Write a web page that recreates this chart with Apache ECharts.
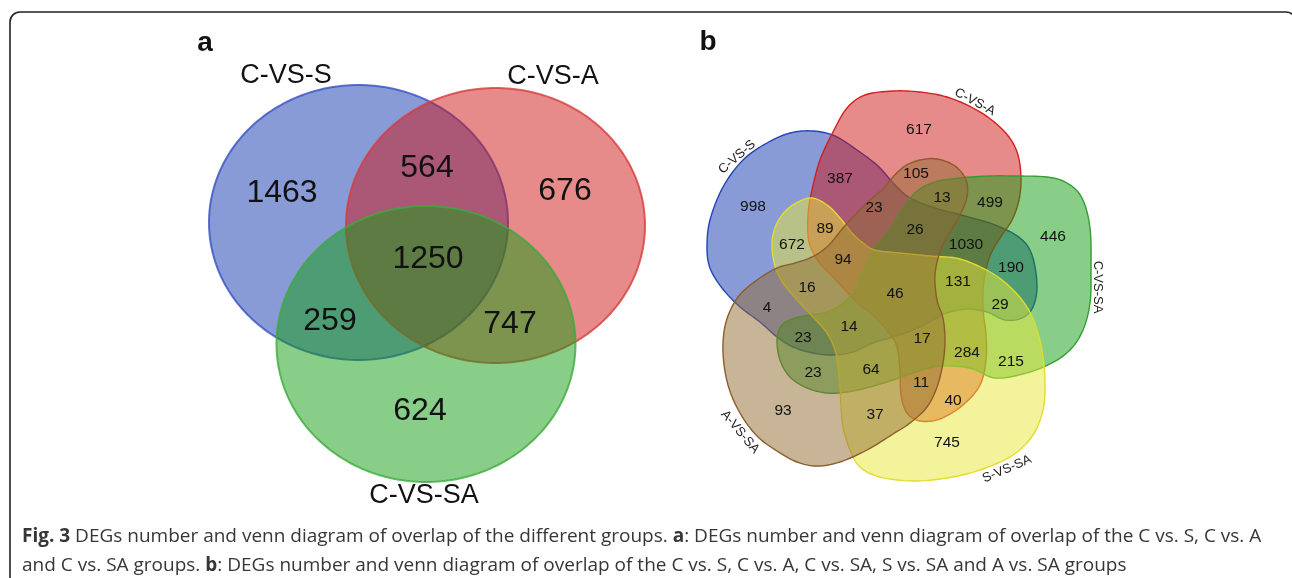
<!DOCTYPE html>
<html>
<head>
<meta charset="utf-8">
<script src="https://cdn.jsdelivr.net/npm/echarts@6/dist/echarts.min.js"></script>
<style>
  html, body { margin: 0; padding: 0; background: #fff; }
  #chart { width: 1292px; height: 578px; }
</style>
</head>
<body>
<div id="chart"></div>
<script>
// ---------- Panel a: three comparison groups ----------
const groupsA = ['C-VS-S', 'C-VS-A', 'C-VS-SA'];
// Set membership of every region (indices into groupsA)
const regionsA = [[0], [1], [2], [0, 1], [0, 2], [1, 2], [0, 1, 2]];
// DEG counts per region
const countsA = [1463, 676, 624, 564, 259, 747, 1250];

// ---------- Panel b: five comparison groups ----------
const groupsB = ['C-VS-S', 'C-VS-A', 'C-VS-SA', 'S-VS-SA', 'A-VS-SA'];
const regionsB = [
  [0], [1], [2], [3], [4],
  [0, 1], [0, 2], [0, 3], [0, 4], [1, 2], [1, 3], [1, 4], [2, 3], [2, 4], [3, 4],
  [0, 1, 2], [0, 1, 3], [0, 1, 4], [0, 2, 3], [0, 2, 4], [0, 3, 4], [1, 2, 3], [1, 2, 4], [1, 3, 4], [2, 3, 4],
  [0, 1, 2, 3], [0, 1, 2, 4], [0, 1, 3, 4], [0, 2, 3, 4], [1, 2, 3, 4],
  [0, 1, 2, 3, 4]
];
const countsB = [
  998, 617, 446, 745, 93,
  387, 190, 672, 4, 499, 40, 105, 215, 23, 37,
  1030, 89, 23, 29, 23, 16, 284, 13, 11, 64,
  131, 26, 94, 14, 17,
  46
];

// ---------- Layout (pixel space of the canvas) ----------
const W = 1292, H = 578;

// ellipses of panel a: [cx, cy, rx, ry]
const ellipsesA = [
  [358.5, 222.5, 149.5, 137.5],
  [495.5, 225.5, 149.5, 137.5],
  [426, 344, 149.5, 138]
];
const fillsA = ['rgba(19,55,173,0.5)', 'rgba(205,21,21,0.5)', 'rgba(17,157,17,0.5)'];
const strokesA = ['rgba(55,80,195,0.8)', 'rgba(215,60,60,0.8)', 'rgba(60,170,60,0.8)'];
const labelPosA = [[282, 193], [565, 191], [420, 411], [427, 168], [330, 321], [510, 324], [428, 259]];
const namePosA = [[286, 76], [553, 77], [424, 496]];

// outlines of panel b (control points of closed smooth curves)
const outlinesB = [
  // C-VS-S
  [[813,131],[835,136],[857,150],[878,166],[895,185],[910,198],[935,208],[965,216],[995,225],[1020,238],[1032,255],[1037,285],[1033,307],[1022,318],[1005,320],[987,312],[967,309],[947,313],[933,320],[913,330],[893,337],[873,343],[853,352],[833,355],[813,353],[793,347],[777,337],[760,322],[740,307],[722,288],[710,268],[707,247],[710,220],[723,187],[743,160],[767,143],[790,133]],
  // C-VS-A
  [[893,91],[920,92],[947,97],[973,108],[993,121],[1009,137],[1018,155],[1021,178],[1019,200],[1012,220],[1000,238],[990,256],[984,280],[983,308],[986,335],[986,360],[980,385],[963,405],[940,419],[920,421],[907,413],[901,395],[900,370],[897,347],[889,333],[875,317],[860,305],[847,292],[833,277],[819,262],[809,242],[808,215],[812,190],[820,160],[833,132],[847,108],[865,95]],
  // C-VS-SA
  [[935,182],[960,178],[990,176],[1013,176],[1047,177],[1067,183],[1082,198],[1090,228],[1091,270],[1090,303],[1083,330],[1070,350],[1050,364],[1023,374],[995,378],[973,369],[953,366],[933,367],[913,373],[893,380],[870,387],[847,392],[827,393],[807,388],[790,377],[780,360],[777,340],[781,326],[792,319],[810,315],[827,312],[843,303],[854,291],[863,271],[873,250],[887,233],[900,213],[916,192]],
  // S-VS-SA
  [[810,198],[827,205],[840,218],[852,233],[863,243],[875,250],[900,253],[930,256],[960,259],[990,272],[1010,287],[1027,307],[1037,330],[1043,357],[1045,385],[1043,410],[1033,435],[1013,455],[980,470],[947,478],[913,481],[880,477],[860,467],[850,450],[843,427],[841,407],[840,387],[838,367],[835,350],[827,333],[813,317],[797,300],[783,283],[775,266],[772,243],[777,223],[790,207]],
  // A-VS-SA
  [[893,177],[905,166],[920,160],[937,159],[955,166],[966,180],[967,197],[960,215],[950,232],[940,252],[935,275],[937,300],[943,318],[945,340],[943,363],[937,387],[927,407],[910,423],[893,434],[867,450],[840,462],[817,466],[797,462],[777,451],[757,436],[740,413],[728,385],[723,352],[726,322],[738,297],[757,280],[777,268],[795,263],[812,257],[828,246],[843,228],[857,213],[870,200],[883,189]]
];
const fillsB = ['rgba(19,55,173,0.5)', 'rgba(205,21,21,0.5)', 'rgba(17,157,17,0.5)', 'rgba(231,231,55,0.5)', 'rgba(145,107,49,0.5)'];
const strokesB = ['#2443b8', '#d21f1f', '#2f9f2f', '#e3dc2c', '#8c5c2a'];
const labelPosB = [
  [753,207],[919,130],[1053,237],[947,443],[783,411],
  [840,179],[1011,268],[792,245],[767,308],[990,203],[953,401],[916,174],[1011,362],[813,373],[875,415],
  [966,245],[825,229],[874,208],[1000,305],[803,338],[807,288],[967,353],[942,198],[921,383],[871,370],
  [958,282],[915,230],[843,260],[849,327],[922,339],
  [895,294]
];
// set names of panel b: [x, y, rotation in degrees]
const namePosB = [[737,157,41], [975,102,-28], [1098,287,-90], [1007,469,23], [740,432,-50]];

// ---------- geometry helpers ----------
function ellipsePoints(e, n) {
  const pts = [];
  for (let k = 0; k < n; k++) {
    const a = (k / n) * Math.PI * 2;
    pts.push([e[0] + e[2] * Math.cos(a), e[1] + e[3] * Math.sin(a)]);
  }
  return pts;
}
// closed Catmull-Rom curve through the control points
function smoothClosed(pts, steps) {
  const out = [], L = pts.length;
  for (let i = 0; i < L; i++) {
    const p0 = pts[(i - 1 + L) % L], p1 = pts[i], p2 = pts[(i + 1) % L], p3 = pts[(i + 2) % L];
    for (let t = 0; t < steps; t++) {
      const s = t / steps, s2 = s * s, s3 = s2 * s;
      const f = (a, b, c, d) => 0.5 * (2 * b + (-a + c) * s + (2 * a - 5 * b + 4 * c - d) * s2 + (-a + 3 * b - 3 * c + d) * s3);
      out.push([f(p0[0], p1[0], p2[0], p3[0]), f(p0[1], p1[1], p2[1], p3[1])]);
    }
  }
  return out;
}

const FONT = 'Liberation Sans, Arial, sans-serif';
const CAP_FONT = 'Open Sans';
const CAP_SIZE = 19;

const chart = echarts.init(document.getElementById('chart'), null, { renderer: 'canvas' });

const option = {
  animation: false,
  backgroundColor: '#ffffff',
  grid: { left: 0, right: 0, top: 0, bottom: 0 },
  xAxis: { type: 'value', min: 0, max: W, show: false },
  yAxis: { type: 'value', min: 0, max: H, inverse: true, show: false },
  series: [
    {
      // panel a sets
      type: 'custom', name: 'sets-a', clip: false,
      data: groupsA.map((g, i) => [ellipsesA[i][0], ellipsesA[i][1], i]),
      renderItem: function (params, api) {
        const i = api.value(2);
        const pts = ellipsePoints(ellipsesA[i], 240).map(p => api.coord(p));
        return { type: 'polygon', shape: { points: pts }, style: { fill: fillsA[i], stroke: strokesA[i], lineWidth: 2 } };
      }
    },
    {
      // panel a set names
      type: 'custom', name: 'names-a', clip: false,
      data: groupsA.map((g, i) => [namePosA[i][0], namePosA[i][1], i]),
      renderItem: function (params, api) {
        const p = api.coord([api.value(0), api.value(1)]);
        return { type: 'text', x: p[0], y: p[1], style: { text: groupsA[api.value(2)], fontSize: 27, fontFamily: FONT, fill: '#111', align: 'center', verticalAlign: 'middle' } };
      }
    },
    {
      // panel a region counts
      type: 'custom', name: 'counts-a', clip: false,
      data: countsA.map((c, i) => [labelPosA[i][0], labelPosA[i][1], c]),
      renderItem: function (params, api) {
        const p = api.coord([api.value(0), api.value(1)]);
        return { type: 'text', x: p[0], y: p[1], style: { text: String(api.value(2)), fontSize: 32, fontFamily: FONT, fill: '#111', align: 'center', verticalAlign: 'middle' } };
      }
    },
    {
      // panel b sets
      type: 'custom', name: 'sets-b', clip: false,
      data: groupsB.map((g, i) => [outlinesB[i][0][0], outlinesB[i][0][1], i]),
      renderItem: function (params, api) {
        const i = api.value(2);
        const pts = smoothClosed(outlinesB[i], 8).map(p => api.coord(p));
        return { type: 'polygon', shape: { points: pts }, style: { fill: fillsB[i], stroke: strokesB[i], lineWidth: 1.4 } };
      }
    },
    {
      // panel b set names
      type: 'custom', name: 'names-b', clip: false,
      data: groupsB.map((g, i) => [namePosB[i][0], namePosB[i][1], i]),
      renderItem: function (params, api) {
        const i = api.value(2);
        const p = api.coord([api.value(0), api.value(1)]);
        return { type: 'text', x: p[0], y: p[1], rotation: namePosB[i][2] * Math.PI / 180,
          style: { text: groupsB[i], fontSize: 13, fontFamily: FONT, fill: '#222', align: 'center', verticalAlign: 'middle' } };
      }
    },
    {
      // panel b region counts
      type: 'custom', name: 'counts-b', clip: false,
      data: countsB.map((c, i) => [labelPosB[i][0], labelPosB[i][1], c]),
      renderItem: function (params, api) {
        const p = api.coord([api.value(0), api.value(1)]);
        return { type: 'text', x: p[0], y: p[1], style: { text: String(api.value(2)), fontSize: 15.5, fontFamily: FONT, fill: '#111', align: 'center', verticalAlign: 'middle' } };
      }
    }
  ],
  graphic: [
    { type: 'rect', shape: { x: 10, y: 12, width: 1286, height: 600, r: 10 }, style: { fill: 'none', stroke: '#222', lineWidth: 1.6 }, silent: true },
    { type: 'text', x: 205, y: 43, style: { text: 'a', font: 'bold 28px Liberation Sans', fill: '#111', align: 'center', verticalAlign: 'middle' } },
    { type: 'text', x: 708, y: 42, style: { text: 'b', font: 'bold 28px Liberation Sans', fill: '#111', align: 'center', verticalAlign: 'middle' } },
    {
      type: 'text', x: 22, y: 522,
      style: {
        text: '{b|Fig. 3}{n| DEGs number and venn diagram of overlap of the different groups. }{b|a}{n|: DEGs number and venn diagram of overlap of the C vs. S, C vs. A}\n' +
              '{n|and C vs. SA groups. }{b|b}{n|: DEGs number and venn diagram of overlap of the C vs. S, C vs. A, C vs. SA, S vs. SA and A vs. SA groups}',
        align: 'left', verticalAlign: 'top', lineHeight: 29,
        fontSize: CAP_SIZE, fontFamily: CAP_FONT, fill: '#363636',
        rich: {
          b: { fontSize: CAP_SIZE, fontFamily: CAP_FONT, fontWeight: 'bold', fill: '#363636', lineHeight: 29 },
          n: { fontSize: CAP_SIZE, fontFamily: CAP_FONT, fontWeight: 'normal', fill: '#363636', lineHeight: 29 }
        }
      }
    }
  ]
};
chart.setOption(option);
</script>
</body>
</html>
